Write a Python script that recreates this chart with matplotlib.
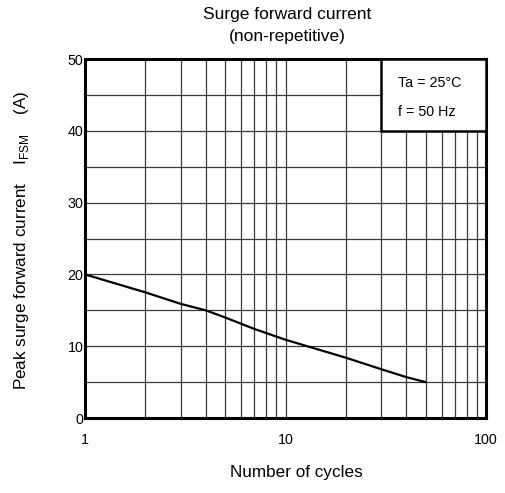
import matplotlib
matplotlib.use("Agg")
import matplotlib.pyplot as plt
from matplotlib.patches import Rectangle
from matplotlib.ticker import FixedLocator, NullFormatter

plt.rcParams["font.family"] = ["Liberation Sans", "DejaVu Sans"]
plt.rcParams["mathtext.fontset"] = "custom"
plt.rcParams["mathtext.rm"] = "Liberation Sans"

# surge current vs number of cycles
cycles = [1, 2, 3, 4, 5, 7, 10, 20, 30, 40, 50]
i_fsm = [20, 17.5, 15.9, 15.0, 14.0, 12.4, 10.9, 8.4, 6.8, 5.7, 5.0]

x_ticks = [1, 10, 100]
x_ticklabels = ["1", "10", "100"]
y_ticks = [0, 10, 20, 30, 40, 50]
x_minor = [2, 3, 4, 5, 6, 7, 8, 9, 20, 30, 40, 50, 60, 70, 80, 90]
y_minor = [5, 15, 25, 35, 45]

notes = ["Ta = 25°C", "f = 50 Hz"]

fig = plt.figure(figsize=(5.05, 4.93), dpi=100)
ax = fig.add_axes([0.1683, 0.1521, 0.7941, 0.7282])

ax.set_xscale("log")
ax.set_xlim(1, 100)
ax.set_ylim(0, 50)
ax.set_xticks(x_ticks)
ax.set_xticklabels(x_ticklabels)
ax.xaxis.set_minor_locator(FixedLocator(x_minor))
ax.xaxis.set_minor_formatter(NullFormatter())
ax.set_yticks(y_ticks)
ax.yaxis.set_minor_locator(FixedLocator(y_minor))
ax.tick_params(axis="both", which="both", length=0, labelsize=10.3)
ax.tick_params(axis="x", pad=11)
ax.tick_params(axis="y", pad=1)

ax.grid(True, which="both", color="#3a3a3a", lw=0.9)
ax.set_axisbelow(True)
for s in ax.spines.values():
    s.set_linewidth(2.2)

ax.plot(cycles, i_fsm, color="black", lw=1.6, zorder=3)

# condition box in the upper right corner
box = Rectangle((30, 40), 70, 10, facecolor="white", edgecolor="black",
                lw=1.8, zorder=4)
ax.add_patch(box)
ax.text(36.4, 46.6, notes[0], fontsize=10.3, va="center", ha="left", zorder=5)
ax.text(36.4, 42.6, notes[1], fontsize=10.3, va="center", ha="left", zorder=5)

fig.text(0.568, 0.971, "Surge forward current", ha="center", va="center", fontsize=12.5)
fig.text(0.568, 0.925, "(non-repetitive)", ha="center", va="center", fontsize=12.5)
fig.text(0.587, 0.042, "Number of cycles", ha="center", va="center", fontsize=12.3)
fig.text(0.043, 0.513, r"Peak surge forward current    I$_{\mathrm{FSM}}$    (A)",
         rotation=90, ha="center", va="center", fontsize=12.3)

fig.savefig("out.png", dpi=100)
